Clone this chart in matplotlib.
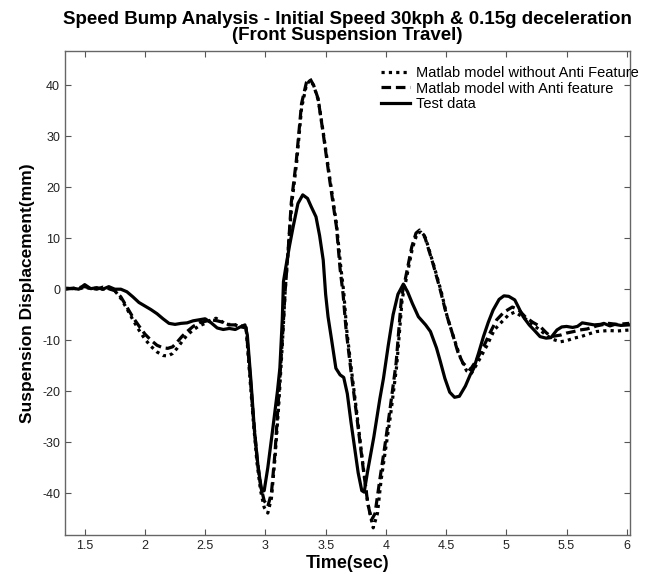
import matplotlib
matplotlib.use('Agg')
import matplotlib.pyplot as plt

# test data (solid)
t_test = [1.34, 1.40, 1.45, 1.50, 1.55, 1.60, 1.65, 1.70, 1.75, 1.80, 1.85, 1.90, 1.95, 2.00,
          2.05, 2.10, 2.15, 2.20, 2.25, 2.30, 2.35, 2.40, 2.45, 2.50, 2.55, 2.60, 2.65, 2.70,
          2.75, 2.80, 2.83, 2.85, 2.88, 2.91, 2.94, 2.97, 2.99, 3.02, 3.06, 3.10, 3.12, 3.14,
          3.15, 3.17, 3.20, 3.23, 3.27, 3.31, 3.35, 3.38, 3.42, 3.45, 3.48, 3.50, 3.52, 3.55,
          3.585, 3.62, 3.65, 3.68, 3.71, 3.74, 3.77, 3.80, 3.82, 3.85, 3.90, 3.95, 3.98, 4.02,
          4.06, 4.10, 4.145, 4.18, 4.22, 4.27, 4.33, 4.37, 4.42, 4.45, 4.49, 4.53, 4.57, 4.61,
          4.66, 4.70, 4.73, 4.77, 4.81, 4.85, 4.89, 4.94, 4.98, 5.02, 5.07, 5.10, 5.14, 5.19,
          5.23, 5.28, 5.33, 5.37, 5.42, 5.46, 5.50, 5.55, 5.59, 5.63, 5.68, 5.73, 5.78, 5.81,
          5.86, 5.90, 5.95, 6.02]
y_test = [0, 0.2, 0, 0.9, 0.1, 0.3, 0, 0.5, 0, 0, -0.5, -1.5, -2.6, -3.3,
          -4.0, -4.8, -5.8, -6.7, -6.9, -6.7, -6.6, -6.2, -6.0, -5.8, -6.6, -7.6, -7.9, -7.7,
          -7.9, -7.3, -7.0, -9, -18, -28, -35, -39.7, -39.5, -35, -27.6, -20, -15.5, -6,
          1.5, 4.4, 8.5, 12.2, 16.8, 18.5, 17.8, 16.2, 14.2, 10.5, 5.7, -1, -5.4, -10,
          -15.5, -16.8, -17.3, -20.5, -26, -31, -36, -39.5, -39.8, -35.5, -29, -21.5, -17.5, -11,
          -5, -1, 1.0, -0.5, -2.8, -5.4, -7, -8.3, -11.5, -14, -17.5, -20.2, -21.2, -21,
          -19, -16.8, -15.5, -12.5, -9.3, -6.5, -4.1, -2, -1.3, -1.4, -2.1, -3.5, -5.4, -7,
          -8, -9.3, -9.6, -9.5, -8.0, -7.4, -7.3, -7.5, -7.3, -6.6, -6.8, -7.0, -6.9, -6.7,
          -7.2, -6.9, -7.1, -7.0]

# matlab model with anti feature (dashed)
t_anti = [1.34, 1.40, 1.45, 1.50, 1.55, 1.60, 1.65, 1.70, 1.75, 1.80, 1.85, 1.90, 1.95, 2.00,
          2.05, 2.10, 2.15, 2.19, 2.23, 2.27, 2.31, 2.35, 2.40, 2.45, 2.50, 2.55, 2.60, 2.65,
          2.70, 2.75, 2.80, 2.84, 2.87, 2.90, 2.93, 2.96, 2.99, 3.02, 3.05, 3.08, 3.11, 3.14,
          3.165, 3.19, 3.215, 3.257, 3.30, 3.34, 3.37, 3.40, 3.437, 3.48, 3.53, 3.59, 3.62, 3.645,
          3.67, 3.71, 3.755, 3.81, 3.85, 3.88, 3.91, 3.95, 3.99, 4.03, 4.085, 4.13, 4.16, 4.215,
          4.25, 4.28, 4.32, 4.39, 4.45, 4.50, 4.56, 4.60, 4.64, 4.70, 4.75, 4.81, 4.87, 4.92,
          4.98, 5.05, 5.10, 5.16, 5.22, 5.28, 5.33, 5.37, 5.45, 5.50, 5.56, 5.61, 5.67, 5.75,
          5.85, 5.92, 6.02]
y_anti = [0.2, 0.1, 0.3, 0.5, 0.2, 0, 0.4, 0.1, -0.3, -1.5, -3.5, -5.5, -7.2, -8.8,
          -10.0, -11.0, -11.5, -11.6, -11.3, -10.3, -9.2, -8.3, -7.3, -6.6, -6.3, -6.0, -6.2, -6.5,
          -7.0, -7.0, -7.2, -7.5, -16, -25, -33, -38.5, -41.5, -42.6, -40, -32, -21, -10,
          0, 8, 17, 25.3, 36.4, 40.5, 41.3, 40, 37.4, 30.5, 22, 12.2, 4, -1,
          -8, -16, -24.3, -34.8, -42, -45.3, -44, -37.3, -31, -24.3, -14.5, -1.5, 1.8, 8.3,
          11, 11.6, 10.5, 5.1, 0, -4.7, -9.3, -12.5, -14.5, -15.8, -14, -11.3, -8.3, -6,
          -4.5, -3.5, -4, -5.5, -6.5, -7.3, -8.5, -9.3, -9, -8.6, -8.3, -8, -7.8, -7.2,
          -6.7, -6.9, -6.7]

# matlab model without anti feature (dotted)
t_no_anti = [1.34, 1.40, 1.45, 1.50, 1.55, 1.60, 1.65, 1.70, 1.75, 1.80, 1.85, 1.90, 1.95, 2.00,
             2.05, 2.10, 2.15, 2.19, 2.23, 2.27, 2.31, 2.35, 2.40, 2.45, 2.50, 2.55, 2.59, 2.63,
             2.68, 2.73, 2.78, 2.84, 2.87, 2.90, 2.93, 2.96, 2.99, 3.02, 3.05, 3.08, 3.11, 3.14,
             3.165, 3.19, 3.22, 3.26, 3.30, 3.34, 3.37, 3.40, 3.44, 3.48, 3.53, 3.59, 3.625, 3.65,
             3.675, 3.715, 3.76, 3.81, 3.85, 3.895, 3.93, 3.96, 4.00, 4.04, 4.09, 4.135, 4.165, 4.22,
             4.26, 4.29, 4.33, 4.40, 4.46, 4.51, 4.57, 4.62, 4.67, 4.71, 4.76, 4.84, 4.90, 4.95,
             5.02, 5.07, 5.12, 5.17, 5.24, 5.31, 5.38, 5.45, 5.50, 5.56, 5.62, 5.68, 5.75, 5.85,
             5.92, 6.02]
y_no_anti = [0.1, 0.2, 0, 0.4, 0.1, 0.2, 0, 0.2, -0.3, -1.8, -3.8, -6, -8, -9.8,
             -11.2, -12.3, -13, -13.1, -12.6, -11.5, -10.2, -9, -8, -7.2, -6.7, -6, -5.7, -6.2,
             -7.0, -6.8, -7.3, -7.6, -17, -26, -34, -39.5, -42.8, -43.9, -41, -33, -23, -11,
             0, 8, 17, 25, 35.5, 40, 41, 40, 37, 30.8, 22.5, 12.8, 4.5, -0.5,
             -8, -16, -24.5, -34.5, -42, -46.8, -44, -37.5, -31, -24.5, -15, -2, 1.5, 8,
             11, 11.2, 10, 4.5, -0.5, -5.5, -10, -13.5, -16, -16.5, -14.5, -11, -8, -6.7,
             -5, -4.5, -5.2, -6, -7.3, -8.6, -9.8, -10.3, -10.1, -9.6, -9.3, -8.8, -8.3, -8.1,
             -8.2, -8]

x_ticks = [1.5, 2, 2.5, 3, 3.5, 4, 4.5, 5, 5.5, 6]
y_ticks = [-40, -30, -20, -10, 0, 10, 20, 30, 40]

plt.rcParams['font.family'] = ['Liberation Sans', 'DejaVu Sans']
plt.rcParams['axes.unicode_minus'] = False

fig = plt.figure(figsize=(6.56, 5.74), dpi=100)
ax = fig.add_axes([0.099, 0.068, 0.862, 0.843])

ax.plot(t_no_anti, y_no_anti, color='black', lw=2.3, linestyle=(0, (1, 1.3)),
        label='Matlab model without Anti Feature')
ax.plot(t_anti, y_anti, color='black', lw=2.3, linestyle=(0, (3, 1.5)),
        label='Matlab model with Anti feature')
ax.plot(t_test, y_test, color='black', lw=2.3, label='Test data')

ax.set_xlim(1.336, 6.03)
ax.set_ylim(-48.2, 46.7)
ax.set_xticks(x_ticks)
ax.set_xticklabels(['1.5', '2', '2.5', '3', '3.5', '4', '4.5', '5', '5.5', '6'])
ax.set_yticks(y_ticks)
ax.tick_params(direction='in', top=True, right=True, length=4, width=0.8,
               colors='#555555', labelcolor='#222222', labelsize=9)
for s in ax.spines.values():
    s.set_color('#666666')
    s.set_linewidth(1.0)

ax.set_title('Speed Bump Analysis - Initial Speed 30kph & 0.15g deceleration\n(Front Suspension Travel)',
             fontsize=13.5, fontweight='bold', linespacing=0.95, pad=8)
ax.set_xlabel('Time(sec)', fontsize=13, fontweight='bold', labelpad=2)
ax.set_ylabel('Suspension Displacement(mm)', fontsize=12.5, fontweight='bold', labelpad=5)

ax.legend(loc='upper right', bbox_to_anchor=(1.033, 0.99), frameon=False, fontsize=10.5,
          handlelength=2.0, handletextpad=0.4, labelspacing=0.1, borderaxespad=0.3)

fig.savefig('out.png', dpi=100)
